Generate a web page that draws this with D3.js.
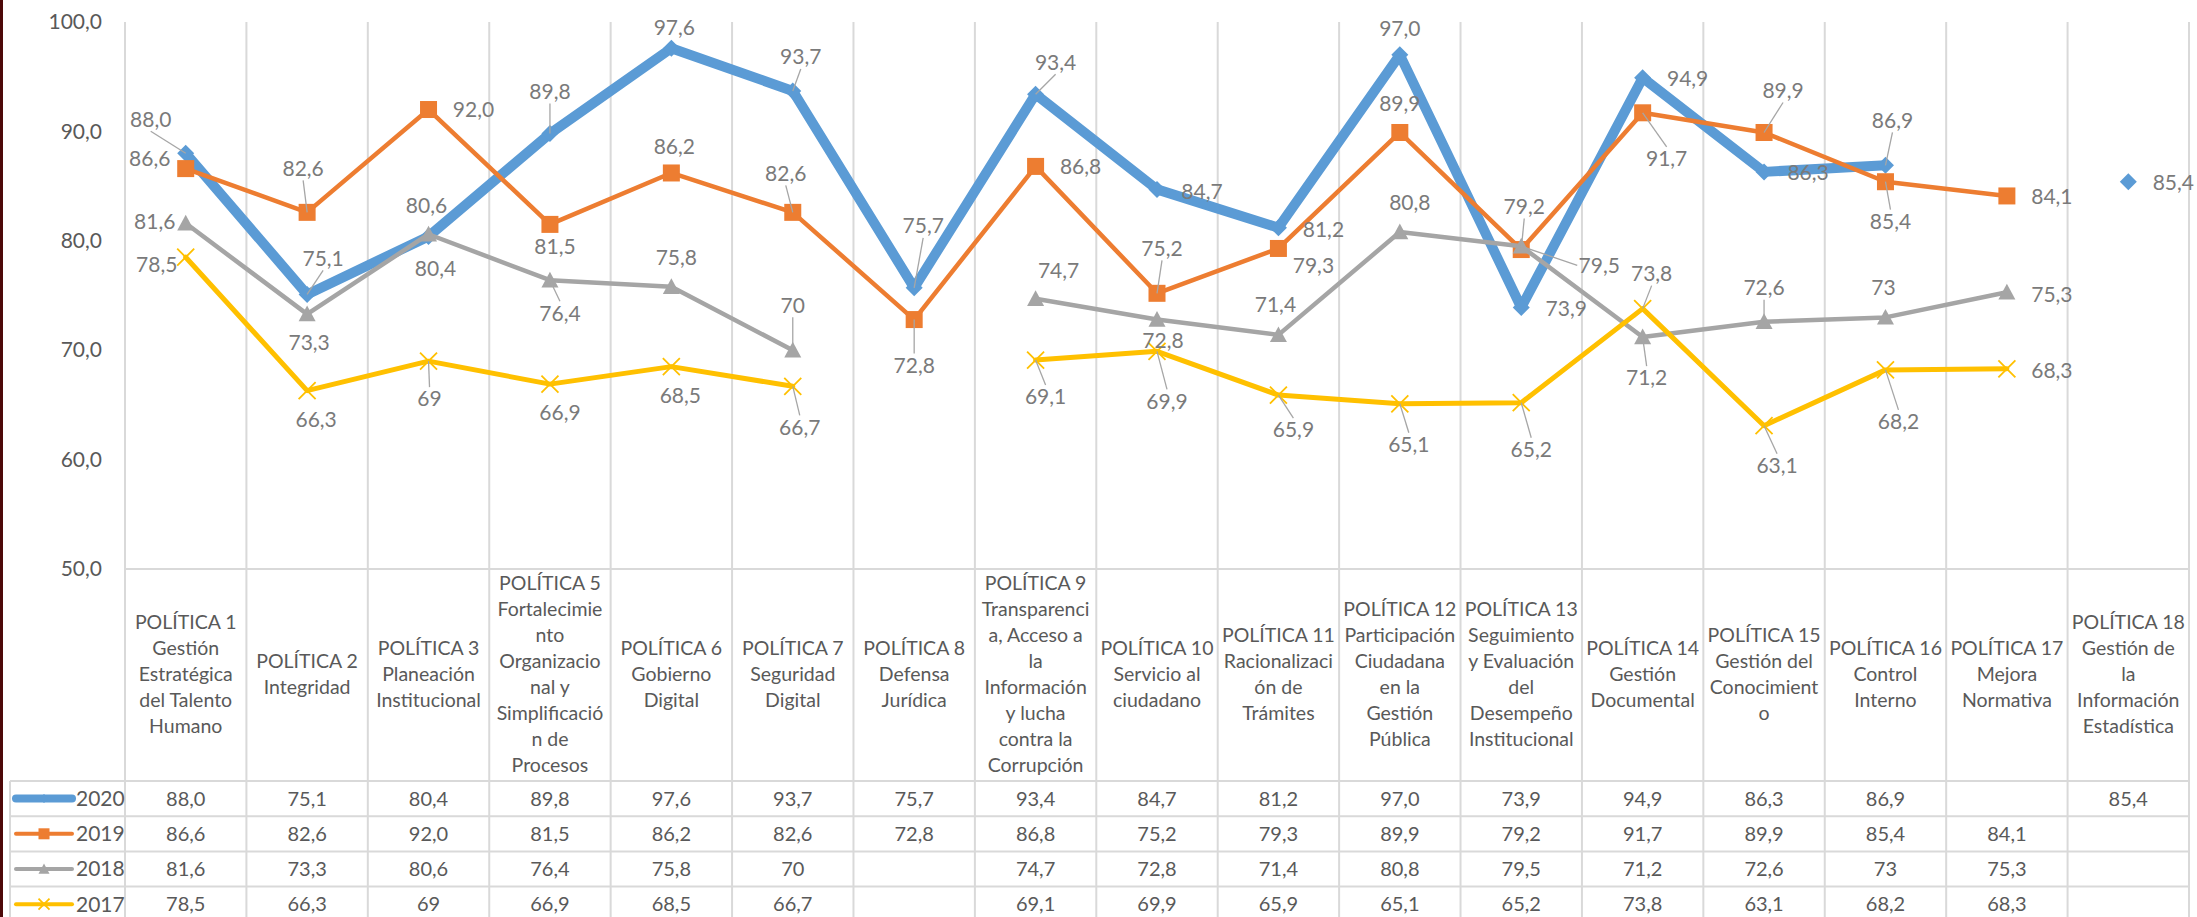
<!DOCTYPE html>
<html>
<head>
<meta charset="utf-8">
<script src="https://cdn.jsdelivr.net/npm/d3@7"></script>
<style>
    body { margin: 0; background: #fff; }
    svg { display: block; font-family: Lato, "Open Sans", sans-serif; }
</style>
</head>
<body>
<svg width="2197" height="917"></svg>
<script>
    // ---- data ----
    var categories = ["P1", "P2", "P3", "P5", "P6", "P7", "P8", "P9", "P10",
        "P11", "P12", "P13", "P14", "P15", "P16", "P17", "P18"];

    var categoryLines = [
        ["POLÍTICA 1", "Gestión", "Estratégica", "del Talento", "Humano"],
        ["POLÍTICA 2", "Integridad"],
        ["POLÍTICA 3", "Planeación", "Institucional"],
        ["POLÍTICA 5", "Fortalecimie", "nto", "Organizacio", "nal y", "Simplificació", "n de", "Procesos"],
        ["POLÍTICA 6", "Gobierno", "Digital"],
        ["POLÍTICA 7", "Seguridad", "Digital"],
        ["POLÍTICA 8", "Defensa", "Jurídica"],
        ["POLÍTICA 9", "Transparenci", "a, Acceso a", "la", "Información", "y lucha", "contra la", "Corrupción"],
        ["POLÍTICA 10", "Servicio al", "ciudadano"],
        ["POLÍTICA 11", "Racionalizaci", "ón de", "Trámites"],
        ["POLÍTICA 12", "Participación", "Ciudadana", "en la", "Gestión", "Pública"],
        ["POLÍTICA 13", "Seguimiento", "y Evaluación", "del", "Desempeño", "Institucional"],
        ["POLÍTICA 14", "Gestión", "Documental"],
        ["POLÍTICA 15", "Gestión del", "Conocimient", "o"],
        ["POLÍTICA 16", "Control", "Interno"],
        ["POLÍTICA 17", "Mejora", "Normativa"],
        ["POLÍTICA 18", "Gestión de", "la", "Información", "Estadística"]
    ];

    var values2020 = [88.0, 75.1, 80.4, 89.8, 97.6, 93.7, 75.7, 93.4, 84.7, 81.2, 97.0, 73.9, 94.9, 86.3, 86.9, null, 85.4];
    var values2019 = [86.6, 82.6, 92.0, 81.5, 86.2, 82.6, 72.8, 86.8, 75.2, 79.3, 89.9, 79.2, 91.7, 89.9, 85.4, 84.1, null];
    var values2018 = [81.6, 73.3, 80.6, 76.4, 75.8, 70, null, 74.7, 72.8, 71.4, 80.8, 79.5, 71.2, 72.6, 73, 75.3, null];
    var values2017 = [78.5, 66.3, 69, 66.9, 68.5, 66.7, null, 69.1, 69.9, 65.9, 65.1, 65.2, 73.8, 63.1, 68.2, 68.3, null];

    var yTicks = [50, 60, 70, 80, 90, 100];

    // ---- label placement (offset from point in px, leader line flag) ----
    var labelPos2020 = [[-35, -34, 1], [16, -36, 1], [7, 32, 0], [0, -42, 1], [3, -21, 0], [8, -34, 1], [9, -62, 1],
        [20, -32, 1], [45, 2, 0], [45, 2, 0], [0, -26, 0], [45, 1, 0], [45, 1, 0], [44, 1, 0], [7, -45, 1], null, [45, 1, 0]];
    var labelPos2019 = [[-36, -10, 0], [-4, -44, 1], [45, 0, 0], [5, 22, 0], [3, -26, 0], [-7, -39, 1], [0, 46, 1],
        [45, 0, 0], [5, -45, 1], [35, 17, 0], [0, -29, 0], [3, -43, 1], [24, 46, 1], [19, -42, 1], [5, 40, 1], [45, 1, 0], null];
    var labelPos2018 = [[-31, -2, 0], [2, 29, 0], [-2, -29, 0], [10, 33, 1], [5, -29, 0], [0, -45, 1], null,
        [23, -28, 0], [6, 21, 0], [-3, -30, 0], [10, -29, 0], [78, 19, 1], [4, 41, 1], [0, -34, 1], [-2, -30, 0], [45, 2, 0], null];
    var labelPos2017 = [[-29, 7, 0], [9, 29, 0], [1, 38, 1], [10, 29, 0], [9, 29, 0], [7, 41, 1], null,
        [10, 37, 1], [10, 50, 1], [15, 35, 1], [9, 41, 1], [10, 47, 1], [9, -35, 1], [13, 40, 1], [13, 52, 1], [45, 2, 0], null];

    var locale = d3.formatLocale({ decimal: ",", thousands: ".", grouping: [3], currency: ["", ""] });

    var series = [
        { name: "2020", values: values2020, labels: labelPos2020, color: "#5B9BD5", width: 10, marker: "diamond", fmt: ".1f" },
        { name: "2019", values: values2019, labels: labelPos2019, color: "#ED7D31", width: 4.5, marker: "square", fmt: ".1f" },
        { name: "2018", values: values2018, labels: labelPos2018, color: "#A5A5A5", width: 4.5, marker: "triangle", fmt: "~g" },
        { name: "2017", values: values2017, labels: labelPos2017, color: "#FFC000", width: 5, marker: "x", fmt: "~g" }
    ];

    var svg = d3.select("svg");
    var gridColor = "#d9d9d9";
    var textDark = "#595959";
    var labelColor = "#7a7a7a";

    var x = d3.scaleBand().domain(categories).range([125, 2189]);
    var y = d3.scaleLinear().domain([50, 100]).range([569, 22]);
    var rows = d3.scaleBand().domain(series.map(function(s) { return s.name; })).range([781, 781 + 4 * 35.2]);
    var cx = function(c) { return x(c) + x.bandwidth() / 2; };

    // strip at the left edge of the screenshot
    svg.append("rect").attr("x", 0).attr("y", 0).attr("width", 3).attr("height", 917).attr("fill", "#4d0808");

    // ---- grid + table borders ----
    var bounds = categories.map(function(c) { return x(c); }).concat([x.range()[1]]);
    var grid = svg.append("g").attr("stroke", gridColor).attr("stroke-width", 2);
    grid.selectAll("line.v").data(bounds).enter().append("line")
        .attr("x1", function(d) { return d; }).attr("x2", function(d) { return d; })
        .attr("y1", 22).attr("y2", 917);
    grid.append("line").attr("x1", 125).attr("x2", x.range()[1]).attr("y1", y(50)).attr("y2", y(50));
    var rowEdges = series.map(function(s) { return rows(s.name); });
    grid.selectAll("line.h").data(rowEdges).enter().append("line")
        .attr("x1", 10).attr("x2", x.range()[1])
        .attr("y1", function(d) { return d; }).attr("y2", function(d) { return d; });
    grid.append("line").attr("x1", 10).attr("x2", 10).attr("y1", rowEdges[0]).attr("y2", 917);

    // ---- y axis ----
    var yAxis = svg.append("g").attr("transform", "translate(102,0)")
        .call(d3.axisLeft(y).tickValues(yTicks).tickFormat(locale.format(".1f")).tickSize(0).tickPadding(0));
    yAxis.select(".domain").remove();
    yAxis.selectAll("text").attr("fill", textDark).style("font-size", "21px").style("font-family", "Lato, sans-serif");

    // ---- category header cells ----
    var header = svg.append("g").attr("fill", textDark).attr("font-size", 19.5).attr("text-anchor", "middle");
    header.selectAll("text").data(categories).enter().append("text")
        .attr("transform", function(c, i) {
            var n = categoryLines[i].length;
            return "translate(" + cx(c) + "," + (674.5 - (n - 1) * 26 / 2) + ")";
        })
        .each(function(c, i) {
            d3.select(this).selectAll("tspan").data(categoryLines[i]).enter().append("tspan")
                .attr("x", 0).attr("y", function(d, j) { return j * 26; }).attr("dy", "0.35em")
                .text(function(d) { return d; });
        });

    // ---- marker helper ----
    function drawMarker(g, type, color, size) {
        var h = size / 2;
        if (type === "diamond") {
            g.append("path").attr("d", d3.symbol(d3.symbolSquare, size * size / 2)())
                .attr("transform", "rotate(45)").attr("fill", color);
        } else if (type === "square") {
            g.append("rect").attr("x", -h).attr("y", -h).attr("width", size).attr("height", size).attr("fill", color);
        } else if (type === "triangle") {
            g.append("path").attr("d", "M0," + (-h) + "L" + h + "," + (h * 0.85) + "L" + (-h) + "," + (h * 0.85) + "Z")
                .attr("fill", color);
        } else {
            g.append("path").attr("d", "M" + (-h) + "," + (-h) + "L" + h + "," + h + "M" + (-h) + "," + h + "L" + h + "," + (-h))
                .attr("stroke", color).attr("stroke-width", 1.8).attr("fill", "none");
        }
    }

    // ---- lines + markers ----
    var line = d3.line()
        .defined(function(d) { return d.v != null; })
        .x(function(d) { return cx(d.c); })
        .y(function(d) { return y(d.v); });

    series.forEach(function(s) {
        var pts = categories.map(function(c, i) { return { c: c, v: s.values[i], lp: s.labels[i] }; });
        s.points = pts;
        svg.append("path").datum(pts)
            .attr("fill", "none").attr("stroke", s.color).attr("stroke-width", s.width)
            .attr("stroke-linejoin", "round").attr("stroke-linecap", "round")
            .attr("d", line);
        svg.append("g").selectAll("g").data(pts.filter(function(d) { return d.v != null; })).enter().append("g")
            .attr("transform", function(d) { return "translate(" + cx(d.c) + "," + y(d.v) + ")"; })
            .each(function() { drawMarker(d3.select(this), s.marker, s.color, 17); });
    });

    // ---- data labels with leader lines ----
    var labels = svg.append("g").attr("font-size", 21).attr("fill", labelColor).attr("text-anchor", "middle");
    series.forEach(function(s) {
        var f = locale.format(s.fmt);
        s.points.filter(function(d) { return d.v != null; }).forEach(function(d) {
            var px = cx(d.c), py = y(d.v);
            var lx = px + d.lp[0], ly = py + d.lp[1];
            if (d.lp[2]) {
                var ax, ay;
                if (Math.abs(d.lp[0]) > 50) {
                    ax = lx - Math.sign(d.lp[0]) * 22; ay = ly;
                } else {
                    ax = lx; ay = ly - Math.sign(d.lp[1]) * 12;
                }
                labels.append("line").attr("x1", ax).attr("y1", ay).attr("x2", px).attr("y2", py)
                    .attr("stroke", "#a6a6a6").attr("stroke-width", 1.3);
            }
            labels.append("text").attr("x", lx).attr("y", ly).attr("dy", "0.35em").text(f(d.v));
        });
    });

    // ---- table body ----
    series.forEach(function(s) {
        var ry = rows(s.name) + rows.bandwidth() / 2;
        var f = locale.format(s.fmt);
        // legend key
        var key = svg.append("g");
        key.append("line").attr("x1", 16).attr("x2", 72).attr("y1", ry).attr("y2", ry)
            .attr("stroke", s.color).attr("stroke-width", s.name === "2020" ? 8 : 4).attr("stroke-linecap", "round");
        var mk = key.append("g").attr("transform", "translate(44," + ry + ")");
        drawMarker(mk, s.marker, s.color, s.name === "2020" ? 9 : 11);
        key.append("text").attr("x", 76).attr("y", ry).attr("dy", "0.35em")
            .attr("fill", textDark).attr("font-size", 21).text(s.name);
        // values
        svg.append("g").selectAll("text").data(s.points.filter(function(d) { return d.v != null; })).enter().append("text")
            .attr("x", function(d) { return cx(d.c); }).attr("y", ry).attr("dy", "0.35em")
            .attr("text-anchor", "middle").attr("fill", textDark).attr("font-size", 20)
            .text(function(d) { return f(d.v); });
    });
</script>
</body>
</html>
